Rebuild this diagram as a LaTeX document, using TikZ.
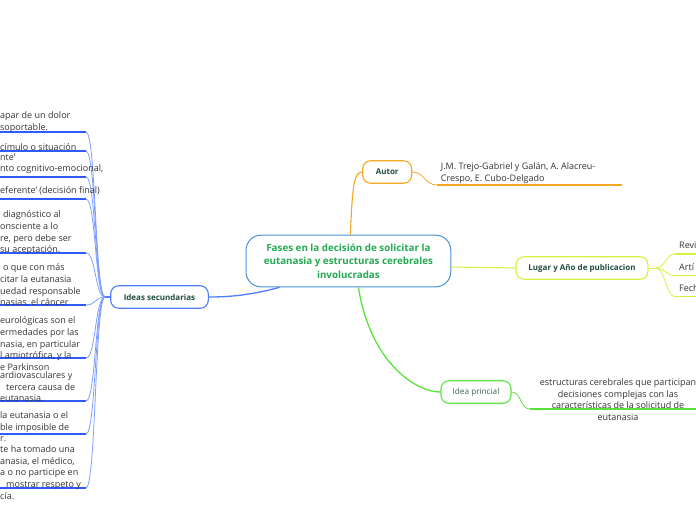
\documentclass[tikz,border=0pt]{standalone}
\usepackage{fontspec}
\setmainfont{Open Sans}
\usetikzlibrary{positioning}
\definecolor{centralblue}{HTML}{4A90D9}
\definecolor{titlegreen}{HTML}{22AA50}
\definecolor{topictext}{HTML}{1F4D3D}
\definecolor{ideatext}{HTML}{3F6158}
\definecolor{autororange}{HTML}{F5A623}
\definecolor{lugaryellow}{HTML}{D7F23E}
\definecolor{ideagreen}{HTML}{5BE33D}
\definecolor{secblue}{HTML}{4F7BFF}
\definecolor{leafblue}{HTML}{2D5BFF}
\definecolor{twigblue}{HTML}{7F9DFF}
\definecolor{leafgray}{HTML}{333333}

\begin{document}
\begin{tikzpicture}[x=1pt, y=-1pt,
   topic/.style={draw, rounded corners=8pt, line width=1.1pt, text=topictext,
      font=\fontsize{8}{10}\selectfont\bfseries, minimum height=22.5pt, inner sep=0pt},
   leaf/.style={align=left, inner sep=0pt, text=leafgray, font=\fontsize{9}{11.7}\selectfont},
   uline/.style={line width=1.3pt},
   twig/.style={line width=0.8pt}]

   \useasboundingbox (0,0) rectangle (696,520);
   \clip (0,0) rectangle (696,520);

   \node[draw=centralblue, line width=1pt, rounded corners=15pt, minimum width=204.7pt,
      minimum height=51.7pt, align=center, text=titlegreen,
      font=\fontsize{9.8}{13.3}\selectfont\bfseries] (c) at (348.4,261)
      {Fases en la decisión de solicitar la\\eutanasia y estructuras cerebrales\\involucradas};

   \node[topic, draw=autororange, minimum width=49pt] (autor) at (387.2,172) {Autor};
   \node[topic, draw=lugaryellow, minimum width=132pt] (lugar) at (582,268) {Lugar y Año de publicacion};
   \node[topic, draw=ideagreen, minimum width=70pt, font=\fontsize{8.2}{10}\selectfont, text=ideatext] (idea) at (476,392) {Idea princial};
   \node[topic, draw=secblue, minimum width=97.6pt] (sec) at (159.5,297) {Ideas secundarias};

   \draw[autororange, line width=1.1pt] ([xshift=2pt]c.north) .. controls +(2,-50) and +(-8,0) .. (autor.west);
   \draw[lugaryellow, line width=1.1pt] ([yshift=-6pt]c.east) -- (lugar.west);
   \draw[ideagreen, line width=1.3pt] ([xshift=10pt]c.south) .. controls +(12,75) and +(-25,0) .. (idea.west);
   \draw[secblue, line width=1.3pt] ([xshift=34pt]c.south west) .. controls +(-30,8) and +(20,0) .. (sec.east);

   \node[leaf, anchor=west] (autortxt) at (440.7,173) {J.M. Trejo-Gabriel y Galán, A. Alacreu-\\Crespo, E. Cubo-Delgado};
   \coordinate (au0) at (437,185);
   \coordinate (au1) at (621.7,185);
   \draw[autororange, twig] (autor.east) .. controls +(12,0) and +(-12,0) .. (au0);
   \draw[autororange, uline] (au0) -- (au1);

   \coordinate (lg) at (656,268);
   \draw[lugaryellow, twig] (lugar.east) -- (lg);
   \foreach \u/\t [count=\i] in {254/Revi, 275.7/Artí, 296.7/Fech} {
      \coordinate (l\i) at (675,\u);
      \coordinate (m\i) at (696,\u);
      \draw[lugaryellow, twig] (lg) .. controls +(9,0) and +(-9,0) .. (l\i);
      \draw[lugaryellow, uline] (l\i) -- (m\i);
      \node[leaf, anchor=west] (lt\i) at (679,\u-8.5) {\t};
   }

   \node[leaf, align=center] (ideatxt) at (618,399.5)
      {estructuras cerebrales que participan\\decisiones complejas con las\\características de la solicitud de\\eutanasia};
   \coordinate (id0) at (530,409);
   \coordinate (id1) at (696,409);
   \draw[ideagreen, twig] (idea.east) .. controls +(10,0) and +(-10,0) .. (id0);
   \draw[ideagreen, uline] (id0) -- (id1);

   \coordinate (hs) at (105,297);
   \draw[secblue, line width=1.1pt] (sec.west) -- (hs);
   \foreach \u [count=\i] in {132,151,177,199,253,305,358,401,434,488} {
      \coordinate (u\i) at (86,\u);
      \coordinate (v\i) at (0,\u);
      \draw[twigblue, twig] (hs) .. controls +(-10,0) and +(10,0) .. (u\i);
      \draw[leafblue, uline] (v\i) -- (u\i);
   }

   \node[leaf, anchor=north west] (sa) at (0,111.5) {apar de un dolor\\soportable.};
   \node[leaf, anchor=north west] (sb) at (0,143.5) {címulo o situación};
   \node[leaf, anchor=north west] (sc) at (0,153.5) {nte'\\nto cognitivo-emocional,};
   \node[leaf, anchor=north west] (sd) at (0,186.5) {eferente' (decisión final)};
   \node[leaf, anchor=north west] (se) at (0,210.5) {\hspace{3pt}diagnóstico al\\onsciente a lo\\re,  pero debe ser\\su aceptación.};
   \node[leaf, anchor=north west] (sf) at (0,263.5) {\hspace{3pt}o que con más\\citar la eutanasia\\uedad responsable\\nasias, el cáncer};
   \node[leaf, anchor=north west] (sg) at (0,316.5) {eurológicas son el\\ermedades por las\\nasia, en particular\\l amiotrófica, y la\\e Parkinson};
   \node[leaf, anchor=north west] (sh) at (0,371.5) {ardiovasculares y\\\hspace{6pt}tercera causa de\\eutanasia.};
   \node[leaf, anchor=north west] (si) at (0,411.5) {la eutanasia o el\\ble imposible de\\r.};
   \node[leaf, anchor=north west] (sj) at (0,445.5) {te ha tomado una\\anasia, el médico,\\a o no participe en\\\hspace{6pt}mostrar respeto y\\cía.};
\end{tikzpicture}
\end{document}
